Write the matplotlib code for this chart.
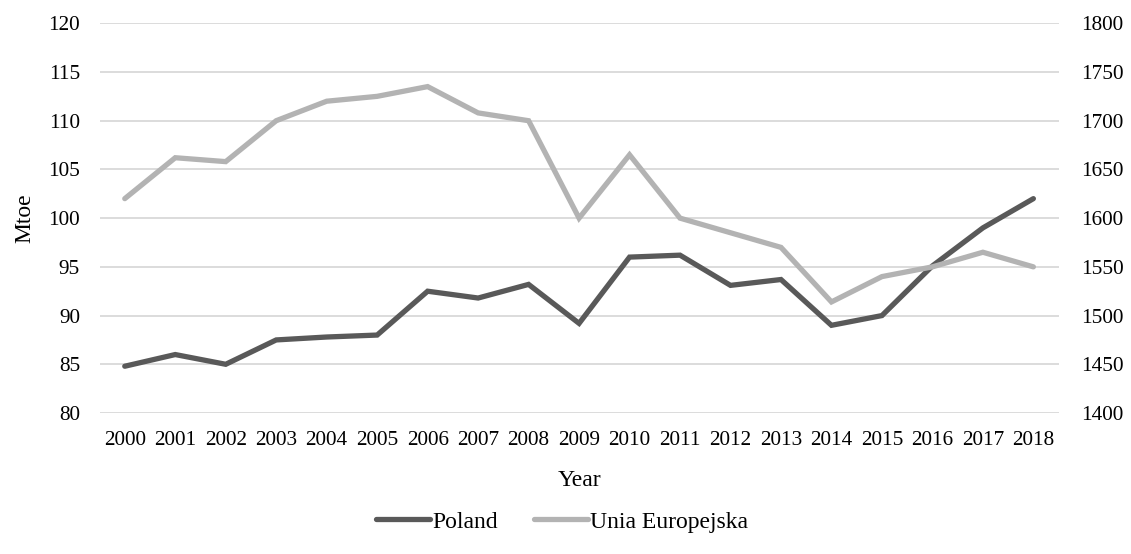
import matplotlib
matplotlib.use("Agg")
import matplotlib.pyplot as plt

years = [str(y) for y in range(2000, 2019)]
poland = [84.8, 86.0, 85.0, 87.5, 87.8, 88.0, 92.5, 91.8, 93.2, 89.2,
          96.0, 96.2, 93.1, 93.7, 89.0, 90.0, 95.1, 99.0, 102.0]
eu = [1620, 1662, 1658, 1700, 1720, 1725, 1735, 1708, 1700, 1600,
      1665, 1600, 1585, 1570, 1514, 1540, 1550, 1565, 1550]

plt.rcParams['font.family'] = ['Liberation Serif', 'DejaVu Serif']
FS = 15.3
LFS = 17

fig = plt.figure(figsize=(11.31, 5.54), dpi=100)
ax = fig.add_axes([0.088, 0.2545, 0.848, 0.7035])
ax2 = ax.twinx()

x = list(range(len(years)))
l1, = ax.plot(x, poland, color='#595959', lw=3.8, solid_capstyle='round', solid_joinstyle='miter', label='Poland', zorder=3)
l2, = ax2.plot(x, eu, color='#b3b3b3', lw=3.8, solid_capstyle='round', solid_joinstyle='miter', label='Unia Europejska', zorder=3)

ax.set_ylim(80, 120)
ax.set_yticks(range(80, 121, 5))
ax2.set_ylim(1400, 1800)
ax2.set_yticks(range(1400, 1801, 50))
ax.set_xlim(-0.5, len(years) - 0.5)
ax.set_xticks(x)
ax.set_xticklabels(years)

ax.grid(axis='y', color='#d9d9d9', lw=1.3)
ax.set_axisbelow(True)
for a in (ax, ax2):
    for s in a.spines.values():
        s.set_visible(False)
    a.tick_params(length=0, labelsize=FS, colors='#000000')
ax.tick_params(axis='y', pad=14)
ax2.tick_params(axis='y', pad=16)
ax.tick_params(axis='x', pad=13)

ax.set_ylabel('Mtoe', fontsize=LFS, labelpad=9)
ax.set_xlabel('Year', fontsize=LFS, labelpad=14)

fig.legend(handles=[l1, l2], loc='center', bbox_to_anchor=(0.497, 0.058), ncol=2,
           frameon=False, fontsize=LFS, handlelength=2.3, handletextpad=0.1,
           columnspacing=1.5)

fig.savefig('out.png', dpi=100)
